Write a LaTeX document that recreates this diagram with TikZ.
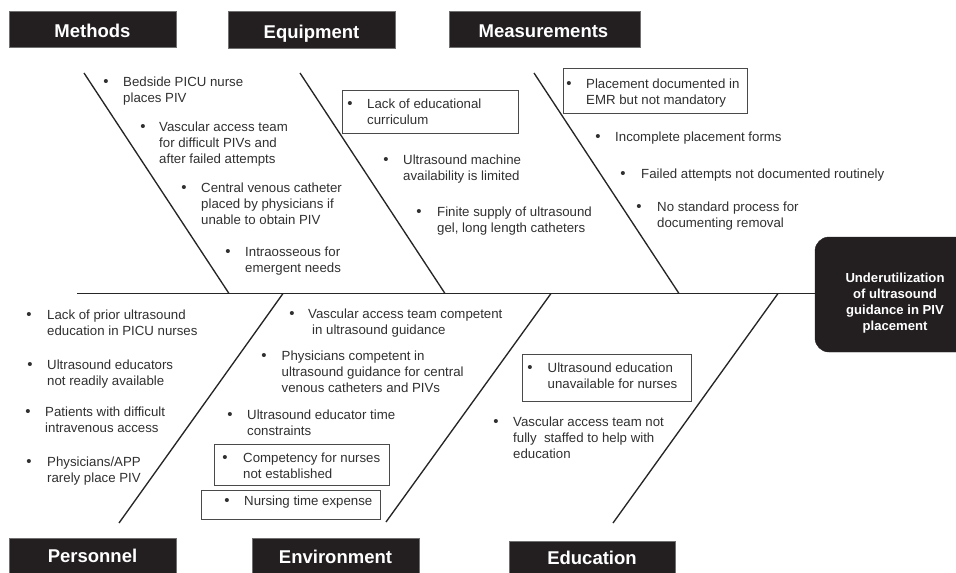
\documentclass[tikz,border=0pt]{standalone}
\usepackage{fontspec}
\setmainfont{Liberation Sans}
\definecolor{hdrfill}{HTML}{231F20}
\definecolor{txtc}{HTML}{303030}
\definecolor{linec}{HTML}{262626}
\definecolor{hdredge}{HTML}{707070}
\definecolor{boxedge}{HTML}{4A4A4A}
\newcommand\mylines[1]{\begin{tabular}[t]{@{}l@{}}#1\end{tabular}}
\newcommand\myclines[1]{\begin{tabular}[t]{@{}c@{}}#1\end{tabular}}
\begin{document}
\begin{tikzpicture}[x=1pt,y=-1pt,
 hdrbox/.style={draw=hdredge, line width=1pt, fill=hdrfill, inner sep=0pt},
 hdrtxt/.style={text=white, font=\fontsize{18.5}{22}\selectfont\bfseries, inner sep=0pt, anchor=base},
 itm/.style={text=txtc, font=\fontsize{13.25}{16}\selectfont, inner sep=0pt, anchor=base west},
 bul/.style={text=txtc, font=\fontsize{15}{16}\selectfont, inner sep=0pt, anchor=base},
 bone/.style={draw=linec, line width=1.35pt},
 itembox/.style={draw=boxedge, line width=0.9pt},
]
\useasboundingbox (0,0) rectangle (956,573);
\clip (0,0) rectangle (956,573);

% header boxes
\node[hdrbox, minimum width=167pt, minimum height=36pt] (methodsbox) at (92.5,29) {};
\node[hdrtxt] (methods) at (92.5,37.5) {Methods};
\node[hdrbox, minimum width=167pt, minimum height=37pt] (equipbox) at (311.5,29.5) {};
\node[hdrtxt] (equip) at (311.5,38) {Equipment};
\node[hdrbox, minimum width=191pt, minimum height=36pt] (measbox) at (544.5,29) {};
\node[hdrtxt] (meas) at (543.5,37.5) {Measurements};

\node[hdrbox, minimum width=167pt, minimum height=44pt] (persbox) at (92.5,560) {};
\node[hdrtxt] (pers) at (92.5,562) {Personnel};
\node[hdrbox, minimum width=167pt, minimum height=44pt] (envbox) at (335.5,560) {};
\node[hdrtxt] (env) at (335.5,563) {Environment};
\node[hdrbox, minimum width=166pt, minimum height=44pt] (edubox) at (592,563) {};
\node[hdrtxt] (edu) at (592,564.5) {Education};

% effect
\node[fill=hdrfill, draw=hdrfill, rounded corners=14pt, minimum width=160pt, minimum height=115pt, inner sep=0pt] (effect) at (895,294.5) {};
\node[text=white, font=\fontsize{13.1}{16}\selectfont\bfseries, inner sep=0pt, anchor=base] (efftext) at (895,282.5)
 {\myclines{Underutilization\\of ultrasound\\guidance in PIV\\placement}};

% spine and bones
\coordinate (spine0) at (77,293.5);
\draw[bone] (spine0) -- (spine0 -| effect.west);
\coordinate (mt) at (84,73);   \coordinate (mb) at (229,293.5);
\coordinate (et) at (300,73);  \coordinate (eb) at (445,293.5);
\coordinate (st) at (534,73);  \coordinate (sb) at (679,293.5);
\coordinate (pt) at (283,293.5); \coordinate (pb) at (119,523);
\coordinate (vt) at (551,293.5); \coordinate (vb) at (386,522);
\coordinate (dt) at (778,293.5); \coordinate (db) at (613,523);
\draw[bone] (mt) -- (mb);
\draw[bone] (et) -- (eb);
\draw[bone] (st) -- (sb);
\draw[bone] (pt) -- (pb);
\draw[bone] (vt) -- (vb);
\draw[bone] (dt) -- (db);

% Methods
\node[bul] (m1b) at (106,86) {\textbullet};
\node[itm] (m1) at (123,86) {\mylines{Bedside PICU nurse\\places PIV}};
\node[bul] (m2b) at (143,131) {\textbullet};
\node[itm] (m2) at (159,131) {\mylines{Vascular access team\\for difficult PIVs and\\after failed attempts}};
\node[bul] (m3b) at (184,192) {\textbullet};
\node[itm] (m3) at (201,192) {\mylines{Central venous catheter\\placed by physicians if\\unable to obtain PIV}};
\node[bul] (m4b) at (228,256) {\textbullet};
\node[itm] (m4) at (245,256) {\mylines{Intraosseous for\\emergent needs}};

% Equipment
\draw[itembox] (342,90) rectangle (518,133);
\node[bul] (e1b) at (350,108) {\textbullet};
\node[itm] (e1) at (367,108) {\mylines{Lack of educational\\curriculum}};
\node[bul] (e2b) at (386,164) {\textbullet};
\node[itm] (e2) at (403,164) {\mylines{Ultrasound machine\\availability is limited}};
\node[bul] (e3b) at (419,216) {\textbullet};
\node[itm] (e3) at (437,216) {\mylines{Finite supply of ultrasound\\gel, long length catheters}};

% Measurements
\draw[itembox] (563,68) rectangle (747,113);
\node[bul] (s1b) at (569,88) {\textbullet};
\node[itm] (s1) at (586,88) {\mylines{Placement documented in\\EMR but not mandatory}};
\node[bul] (s2b) at (598,141.5) {\textbullet};
\node[itm] (s2) at (615,141.5) {Incomplete placement forms};
\node[bul] (s3b) at (623,178) {\textbullet};
\node[itm] (s3) at (641,178) {Failed attempts not documented routinely};
\node[bul] (s4b) at (639,211) {\textbullet};
\node[itm] (s4) at (657,211) {\mylines{No standard process for\\documenting removal}};

% Personnel
\node[bul] (p1b) at (29,319.5) {\textbullet};
\node[itm] (p1) at (47,319.5) {\mylines{Lack of prior ultrasound\\education in PICU nurses}};
\node[bul] (p2b) at (30,369.5) {\textbullet};
\node[itm] (p2) at (47,369.5) {\mylines{Ultrasound educators\\not readily available}};
\node[bul] (p3b) at (28,416.5) {\textbullet};
\node[itm] (p3) at (45,416.5) {\mylines{Patients with difficult\\intravenous access}};
\node[bul] (p4b) at (29,466) {\textbullet};
\node[itm] (p4) at (47,466) {\mylines{Physicians/APP\\rarely place PIV}};

% Environment
\node[bul] (v1b) at (292,318.5) {\textbullet};
\node[itm] (v1) at (308,318.5) {\mylines{Vascular access team competent\\\hspace{4pt}in ultrasound guidance}};
\node[bul] (v2b) at (264,360) {\textbullet};
\node[itm] (v2) at (281.5,360) {\mylines{Physicians competent in\\ultrasound guidance for central\\venous catheters and PIVs}};
\node[bul] (v3b) at (230,419.5) {\textbullet};
\node[itm] (v3) at (247,419.5) {\mylines{Ultrasound educator time\\constraints}};
\draw[itembox] (214,444) rectangle (389,485);
\node[bul] (v4b) at (225,462) {\textbullet};
\node[itm] (v4) at (243,462) {\mylines{Competency for nurses\\not established}};
\draw[itembox] (201,490) rectangle (380,519);
\node[bul] (v5b) at (227,505.5) {\textbullet};
\node[itm] (v5) at (244,505.5) {Nursing time expense};

% Education
\draw[itembox] (522,354) rectangle (691,401);
\node[bul] (d1b) at (530,372) {\textbullet};
\node[itm] (d1) at (547.5,372) {\mylines{Ultrasound education\\unavailable for nurses}};
\node[bul] (d2b) at (496,426) {\textbullet};
\node[itm] (d2) at (513,426) {\mylines{Vascular access team not\\fully\ \ staffed to help with\\education}};
\end{tikzpicture}
\end{document}
